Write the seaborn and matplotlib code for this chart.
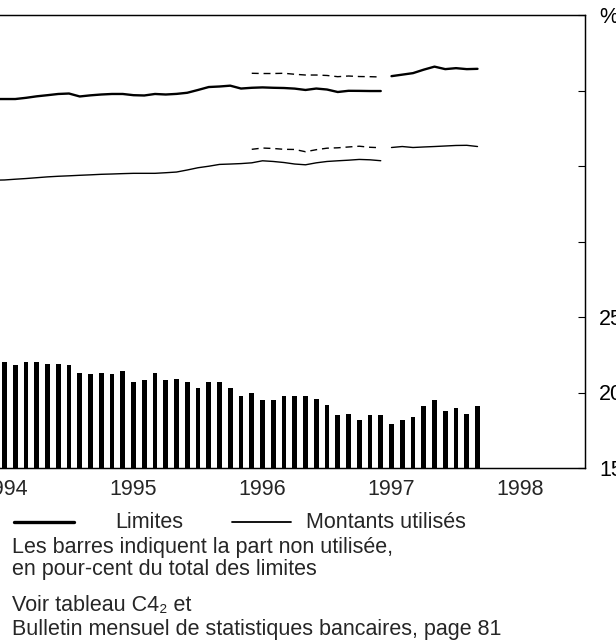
import matplotlib
matplotlib.use("Agg")
import seaborn as sns
import matplotlib.pyplot as plt
from matplotlib.lines import Line2D

# month index counted from end of 1993 (12 = Dec 1994, 24 = Dec 1995, ...)
years = ["1994", "1995", "1996", "1997", "1998"]
year_mid = [6, 18, 30, 42, 54]
year_edges = [0, 12, 24, 36, 48, 60]

# unused part of the credit limits, in % of total limits (right axis)
bar_months = list(range(6, 51))
unused_pct = [22.0, 21.8, 22.0, 22.0, 21.9, 21.9, 21.8, 21.3, 21.2, 21.3,
              21.2, 21.4, 20.7, 20.8, 21.3, 20.8, 20.9, 20.7, 20.3, 20.7,
              20.7, 20.3, 19.8, 20.0, 19.5, 19.5, 19.8, 19.8, 19.8, 19.6,
              19.2, 18.5, 18.6, 18.2, 18.5, 18.5, 17.9, 18.2, 18.4, 19.1,
              19.5, 18.8, 19.0, 18.6, 19.1]

# old statistical basis (left axis, invisible)
old_months = list(range(5, 42))
limits_old = [488.7, 488.7, 488.7, 490.3, 492.3, 493.8, 495.4, 496.0, 492.1,
              493.6, 494.7, 495.4, 495.4, 493.8, 493.4, 495.4, 494.7, 495.5,
              497.0, 500.7, 504.6, 505.3, 506.4, 502.6, 503.6, 504.1, 503.6,
              503.3, 502.5, 500.7, 502.6, 501.3, 498.0, 499.6, 499.5, 499.3,
              499.3]
used_old = [381.2, 381.5, 382.5, 383.4, 384.5, 385.6, 386.4, 387.0, 387.7,
            388.3, 389.0, 389.4, 389.9, 390.3, 390.3, 390.3, 391.1, 392.0,
            394.7, 397.7, 399.7, 402.1, 402.6, 403.2, 404.2, 406.9, 406.0,
            404.6, 402.6, 401.6, 404.2, 406.0, 406.9, 407.7, 408.7, 408.2,
            407.0]

# new basis, overlap period (dashed)
rev_months = list(range(29, 42))
limits_rev = [522.8, 522.5, 522.5, 522.8, 521.5, 520.5, 520.5, 519.9, 518.3,
              519.2, 518.5, 518.3, 517.9]
used_rev = [422.1, 423.8, 423.2, 422.1, 421.9, 418.9, 421.6, 423.6, 424.1,
            425.2, 426.2, 424.8, 424.2]

# new basis afterwards
new_months = list(range(42, 51))
limits_new = [519.0, 521.0, 523.0, 527.6, 531.6, 528.3, 529.6, 528.3, 528.7]
used_new = [424.5, 425.8, 424.5, 425.2, 425.8, 426.5, 427.2, 427.4, 425.8]

sns.set_style("white")
plt.rcParams["font.family"] = ["Liberation Sans", "DejaVu Sans"]
FS = 15.5

fig = plt.figure(figsize=(6.16, 6.4), dpi=100)
# the left part of the frame lies outside the picture
ax = fig.add_axes([-60 / 616, 172 / 640, 645 / 616, 453 / 640])
ax2 = ax.twinx()

# bars on the right-hand % scale
sns.barplot(x=bar_months, y=unused_pct, native_scale=True, width=0.45,
            color="black", linewidth=0, errorbar=None, ax=ax2)

# lines on the left-hand scale
dash = (0, (5, 3.5))
sns.lineplot(x=old_months, y=limits_old, color="black", lw=1.7, ax=ax)
sns.lineplot(x=old_months, y=used_old, color="black", lw=1.0, ax=ax)
sns.lineplot(x=rev_months, y=limits_rev, color="black", lw=1.0, linestyle=dash, ax=ax)
sns.lineplot(x=rev_months, y=used_rev, color="black", lw=1.0, linestyle=dash, ax=ax)
sns.lineplot(x=new_months, y=limits_new, color="black", lw=1.7, ax=ax)
sns.lineplot(x=new_months, y=used_new, color="black", lw=1.0, ax=ax)

ax.set_ylim(0, 600)
ax.set_yticks(range(0, 601, 100))
ax.set_yticklabels([])
ax2.set_ylim(15, 45)
ax2.set_yticks(range(15, 46, 5))
ax2.set_yticklabels(["15", "20", "25", "", "", "", "%"])
ax2.tick_params(axis="y", direction="in", length=5, width=0.8, pad=10,
                labelsize=FS, colors="black")

ax.set_xlim(0, 60)
ax.set_xticks(year_edges)
ax.set_xticklabels([])
ax.set_xticks(year_mid, minor=True)
ax.set_xticklabels(years, minor=True)
ax.tick_params(axis="x", which="major", direction="out", length=6, width=0.8)
ax.tick_params(axis="x", which="minor", length=0, pad=8, labelsize=FS)
ax.tick_params(axis="y", direction="in", length=5)
ax.set_xlabel("")
ax.set_ylabel("")
ax2.set_ylabel("")

for a in (ax, ax2):
    for s in a.spines.values():
        s.set_color("black")
        s.set_linewidth(0.9)

# legend row
fig.add_artist(Line2D([14 / 616, 74 / 616], [1 - 522 / 640] * 2,
                      color="black", lw=2.4, transform=fig.transFigure))
fig.add_artist(Line2D([232 / 616, 291 / 616], [1 - 522 / 640] * 2,
                      color="black", lw=1.3, transform=fig.transFigure))
fig.text(115 / 616, 1 - 528 / 640, "Limites", fontsize=FS, va="baseline")
fig.text(306 / 616, 1 - 528 / 640, "Montants utilisés", fontsize=FS, va="baseline")

# notes
notes = [("Les barres indiquent la part non utilisée,", 553),
         ("en pour-cent du total des limites", 574.5),
         ("Voir tableau C4₂ et", 611),
         ("Bulletin mensuel de statistiques bancaires, page 81", 635)]
for txt, yb in notes:
    fig.text(12 / 616, 1 - yb / 640, txt, fontsize=FS, va="baseline")

fig.savefig("out.png", dpi=100)
